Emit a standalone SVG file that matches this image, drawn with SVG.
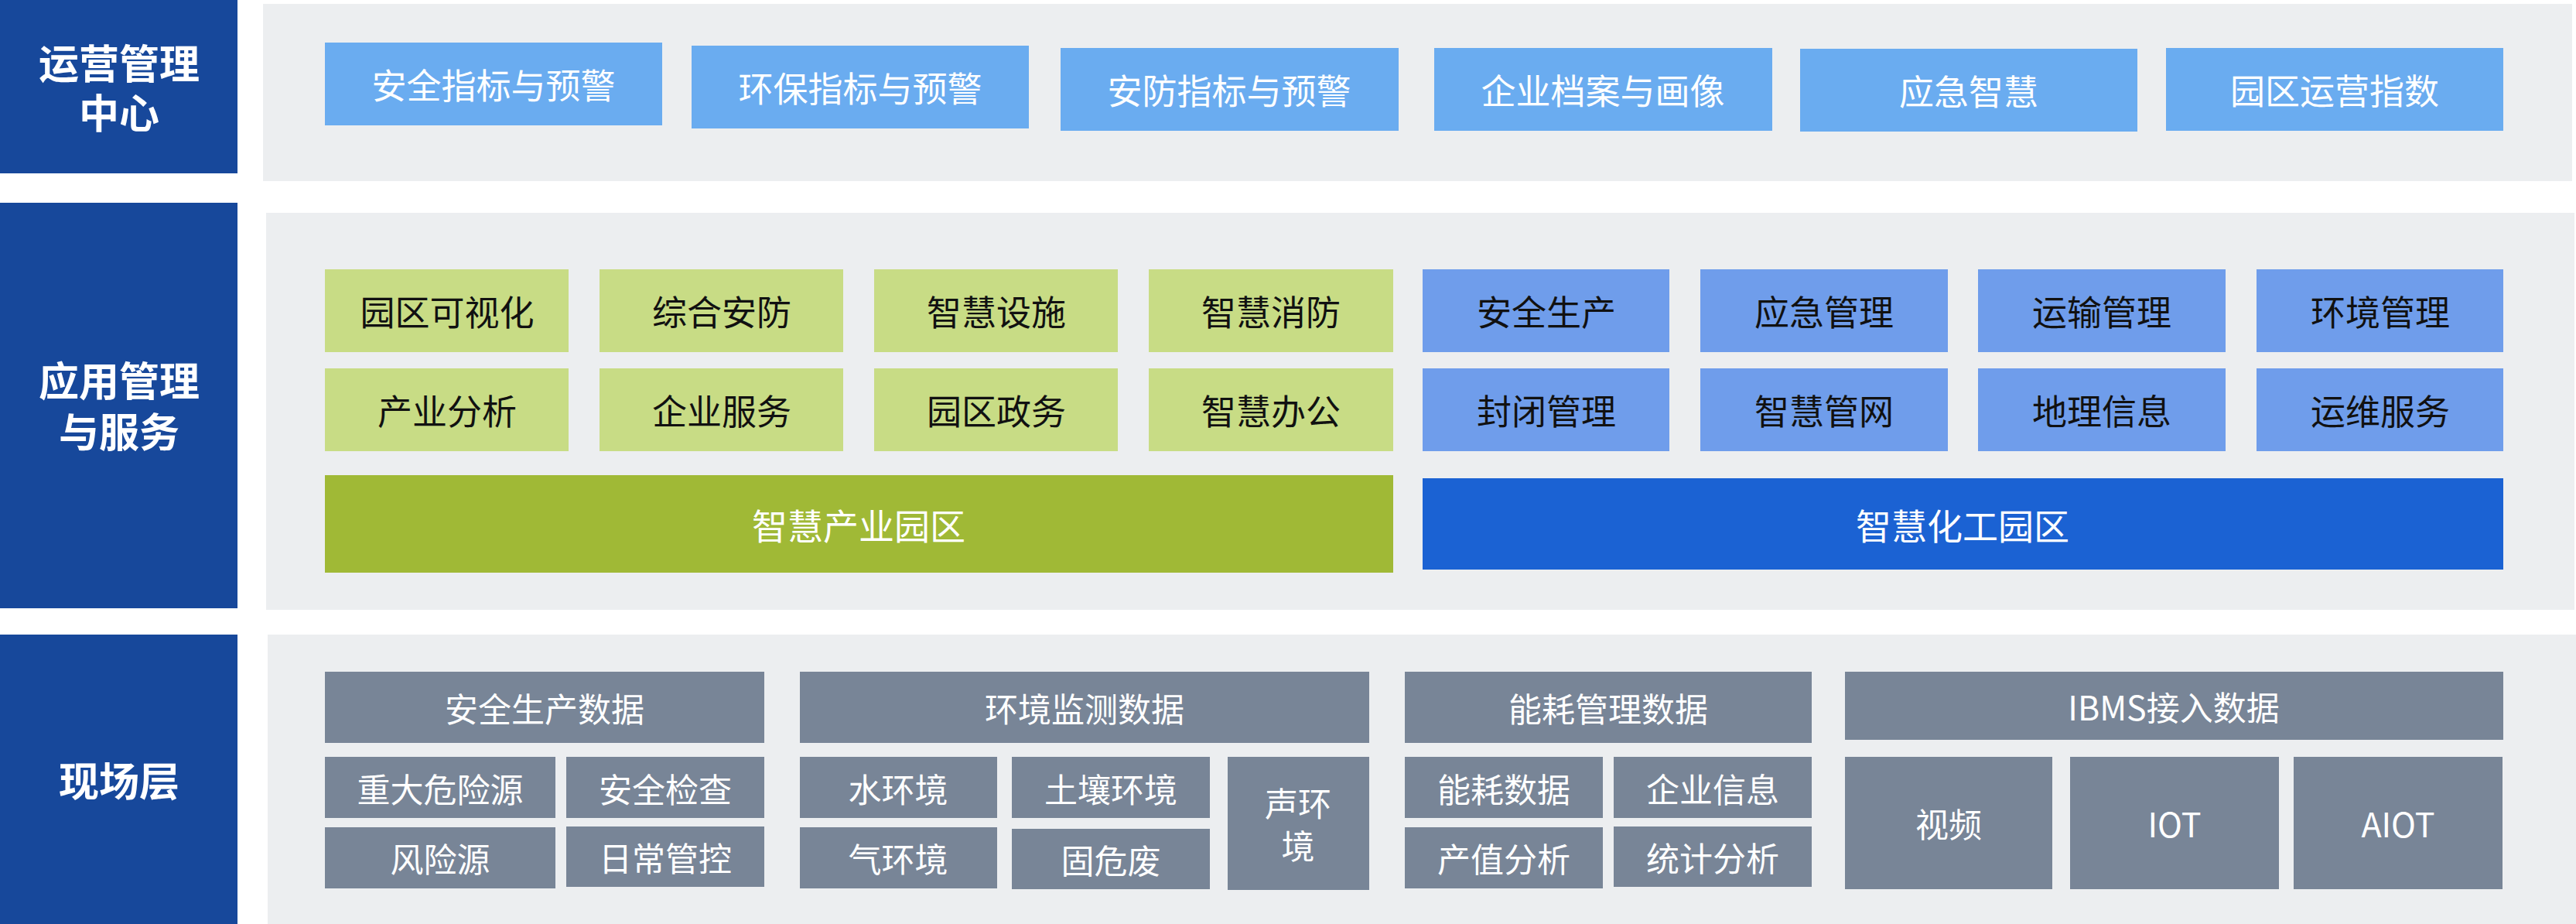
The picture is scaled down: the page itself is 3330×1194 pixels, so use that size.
<svg xmlns="http://www.w3.org/2000/svg" width="3330" height="1194" viewBox="0 0 3330 1194">
<style>
text{font-family:"Noto Sans CJK SC","Noto Sans",sans-serif;text-anchor:middle;dominant-baseline:central}
.lbl{fill:#17489B}.lbl text{fill:#fff;font-size:52px;font-weight:bold}
.panel{fill:#ECEEF0}
.t rect{fill:#6AACF0}.t text{fill:#fff;font-size:45px}
.g rect{fill:#C8DC85}.g text{fill:#111;font-size:45px}
.b rect{fill:#6F9DEB}.b text{fill:#111;font-size:45px}
.gb rect{fill:#A0B936}.gb text{fill:#fff;font-size:46px}
.db rect{fill:#1B62D3}.db text{fill:#fff;font-size:46px}
.s rect{fill:#788597}.s text{fill:#fff;font-size:43px}
</style>
<rect width="3330" height="1194" fill="#fff"/>
<g id="panels">
<rect class="panel" x="340" y="5" width="2985" height="229"/>
<rect class="panel" x="344" y="275" width="2984" height="513"/>
<rect class="panel" x="346" y="820" width="2984" height="374"/>
</g>
<g id="label-ops" class="lbl"><rect x="0" y="0" width="307" height="224"/><text x="154" y="79">运营管理</text><text x="154" y="143">中心</text></g>
<g id="label-app" class="lbl"><rect x="0" y="262" width="307" height="524"/><text x="154" y="489">应用管理</text><text x="154" y="555">与服务</text></g>
<g id="label-field" class="lbl"><rect x="0" y="820" width="307" height="374"/><text x="154" y="1006">现场层</text></g>

<g id="n-top1" class="t"><rect x="420" y="55" width="436" height="107"/><text x="638" y="108">安全指标与预警</text></g>
<g id="n-top2" class="t"><rect x="894" y="59" width="436" height="107"/><text x="1112" y="112">环保指标与预警</text></g>
<g id="n-top3" class="t"><rect x="1371" y="62" width="437" height="107"/><text x="1589" y="115">安防指标与预警</text></g>
<g id="n-top4" class="t"><rect x="1854" y="62" width="437" height="107"/><text x="2072" y="115">企业档案与画像</text></g>
<g id="n-top5" class="t"><rect x="2327" y="63" width="436" height="107"/><text x="2545" y="116">应急智慧</text></g>
<g id="n-top6" class="t"><rect x="2800" y="62" width="436" height="107"/><text x="3018" y="115">园区运营指数</text></g>

<g id="n-g1" class="g"><rect x="420" y="348" width="315" height="107"/><text x="578" y="401">园区可视化</text></g>
<g id="n-g2" class="g"><rect x="775" y="348" width="315" height="107"/><text x="933" y="401">综合安防</text></g>
<g id="n-g3" class="g"><rect x="1130" y="348" width="315" height="107"/><text x="1288" y="401">智慧设施</text></g>
<g id="n-g4" class="g"><rect x="1485" y="348" width="316" height="107"/><text x="1643" y="401">智慧消防</text></g>
<g id="n-g5" class="g"><rect x="420" y="476" width="315" height="107"/><text x="578" y="529">产业分析</text></g>
<g id="n-g6" class="g"><rect x="775" y="476" width="315" height="107"/><text x="933" y="529">企业服务</text></g>
<g id="n-g7" class="g"><rect x="1130" y="476" width="315" height="107"/><text x="1288" y="529">园区政务</text></g>
<g id="n-g8" class="g"><rect x="1485" y="476" width="316" height="107"/><text x="1643" y="529">智慧办公</text></g>

<g id="n-b1" class="b"><rect x="1839" y="348" width="319" height="107"/><text x="1999" y="401">安全生产</text></g>
<g id="n-b2" class="b"><rect x="2198" y="348" width="320" height="107"/><text x="2358" y="401">应急管理</text></g>
<g id="n-b3" class="b"><rect x="2557" y="348" width="320" height="107"/><text x="2717" y="401">运输管理</text></g>
<g id="n-b4" class="b"><rect x="2917" y="348" width="319" height="107"/><text x="3077" y="401">环境管理</text></g>
<g id="n-b5" class="b"><rect x="1839" y="476" width="319" height="107"/><text x="1999" y="529">封闭管理</text></g>
<g id="n-b6" class="b"><rect x="2198" y="476" width="320" height="107"/><text x="2358" y="529">智慧管网</text></g>
<g id="n-b7" class="b"><rect x="2557" y="476" width="320" height="107"/><text x="2717" y="529">地理信息</text></g>
<g id="n-b8" class="b"><rect x="2917" y="476" width="319" height="107"/><text x="3077" y="529">运维服务</text></g>

<g id="n-industry" class="gb"><rect x="420" y="614" width="1381" height="126"/><text x="1110" y="677">智慧产业园区</text></g>
<g id="n-chem" class="db"><rect x="1839" y="618" width="1397" height="118"/><text x="2537" y="677">智慧化工园区</text></g>

<g id="n-safety" class="s">
<rect x="420" y="868" width="568" height="92"/><text x="704" y="914">安全生产数据</text>
<rect x="420" y="978" width="298" height="79"/><text x="569" y="1018">重大危险源</text>
<rect x="732" y="978" width="256" height="79"/><text x="860" y="1018">安全检查</text>
<rect x="420" y="1069" width="298" height="79"/><text x="569" y="1108">风险源</text>
<rect x="732" y="1068" width="256" height="78"/><text x="860" y="1107">日常管控</text>
</g>
<g id="n-env" class="s">
<rect x="1034" y="868" width="736" height="92"/><text x="1402" y="914">环境监测数据</text>
<rect x="1034" y="978" width="255" height="79"/><text x="1161" y="1018">水环境</text>
<rect x="1308" y="978" width="256" height="79"/><text x="1436" y="1018">土壤环境</text>
<rect x="1034" y="1069" width="255" height="79"/><text x="1161" y="1108">气环境</text>
<rect x="1308" y="1071" width="256" height="78"/><text x="1436" y="1110">固危废</text>
<rect x="1587" y="978" width="183" height="172"/><text x="1678" y="1036">声环</text><text x="1678" y="1091">境</text>
</g>
<g id="n-energy" class="s">
<rect x="1816" y="868" width="526" height="92"/><text x="2079" y="914">能耗管理数据</text>
<rect x="1816" y="978" width="256" height="79"/><text x="1944" y="1018">能耗数据</text>
<rect x="2086" y="978" width="256" height="79"/><text x="2214" y="1018">企业信息</text>
<rect x="1816" y="1069" width="256" height="79"/><text x="1944" y="1108">产值分析</text>
<rect x="2086" y="1068" width="256" height="78"/><text x="2214" y="1107">统计分析</text>
</g>
<g id="n-ibms" class="s">
<rect x="2385" y="868" width="851" height="88"/><text x="2810" y="912">IBMS接入数据</text>
<rect x="2385" y="978" width="268" height="171"/><text x="2519" y="1063">视频</text>
<rect x="2676" y="978" width="270" height="171"/><text x="2811" y="1063">IOT</text>
<rect x="2965" y="978" width="270" height="171"/><text x="3100" y="1063">AIOT</text>
</g>
<g id="connectors"></g>
</svg>
